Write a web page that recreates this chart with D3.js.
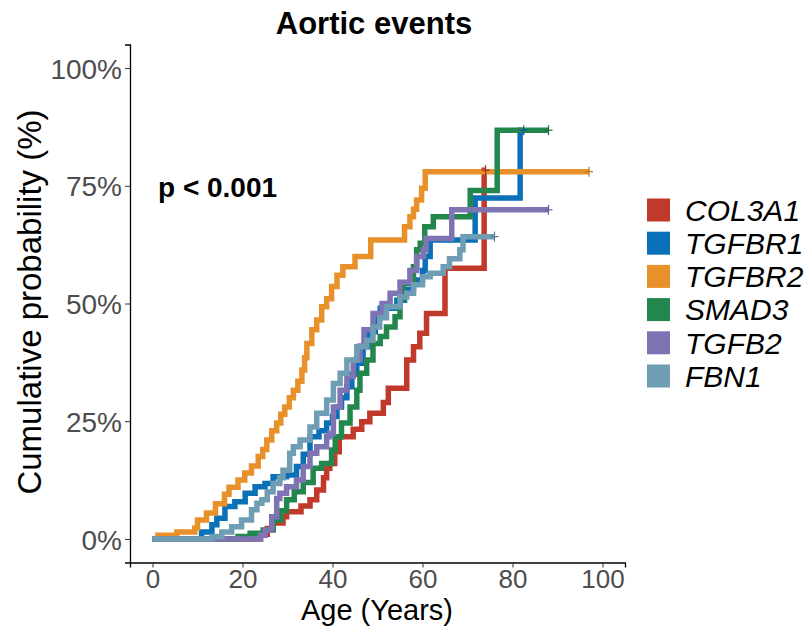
<!DOCTYPE html>
<html>
<head>
<meta charset="utf-8">
<script src="https://cdn.jsdelivr.net/npm/d3@7"></script>
<style>
  body { margin: 0; background: #fff; }
  text { font-family: "Liberation Sans", Arial, sans-serif; }
</style>
</head>
<body>
<div id="chart"></div>
<script>
// Cumulative incidence steps: [age, percent], last entry is the end of follow-up
const col3a1 = [[0,0],[24,1],[25.5,2.2],[26.8,3.4],[29,4.7],[29.8,5.8],[33,7],[35,8.3],[36.5,10.4],[38,13],[38.7,15],[39.4,16],[40.5,18.5],[41.5,21.7],[44.6,23.3],[46.5,24.9],[48.3,26.7],[51.3,29],[52.4,32],[56.5,38],[58,40.8],[59.4,43.7],[60.9,47.9],[65,57.5],[73.7,78.3],[74,78.3]];
const tgfbr1 = [[0,0],[10.9,1.5],[13.2,3],[14.3,4.4],[16.1,6.9],[18.3,7.9],[20.6,9.7],[22.8,11.1],[25,11.8],[26.8,13.2],[29.8,13.6],[32,15.4],[33.5,18],[35,21.7],[37,23],[38.7,24.6],[40,26],[41,28],[42,30],[43.2,32.3],[44.3,35],[45.4,37.3],[46.8,40.8],[48,44],[49.5,47],[50.6,49],[54.3,50.7],[56,53],[58,55],[60,57],[60.6,60],[61.7,63.5],[71.7,72.4],[81.7,86.8],[82.5,86.8]];
const tgfbr2 = [[0,0],[1.2,0.8],[5.4,1.5],[9.4,2.3],[10,4],[12,5.5],[14,7.5],[16,9.5],[17,11],[19,12.5],[20.5,14],[22,15.5],[23.5,17.5],[24.5,19],[25.4,21],[26.5,23],[27.6,24.6],[28.5,26.5],[29.4,28],[30.4,30],[31.3,31.6],[32.3,33.5],[33.2,35.9],[33.8,38.5],[34.3,41.5],[35.4,44.4],[36.5,46.5],[37.6,49.3],[38.7,51],[39.8,53.6],[41,56],[42.3,57.8],[45,60],[48.5,63.5],[56,66.3],[57.2,68.4],[58,70],[58.7,72],[59.8,74.5],[60.6,78],[97,78]];
const smad3 = [[0,0],[19,0.5],[21.7,1.2],[24.6,1.9],[26.8,4],[28.5,6],[29.8,8.3],[31.5,10],[33.5,12],[35.7,15],[37.6,16],[39.8,18.9],[40.6,21.7],[42,24.6],[43.9,28],[45.4,31.6],[46.1,35.2],[47.6,38],[49,41.5],[50.6,43],[52,45],[53.9,47.2],[55,51],[55.7,54.3],[58,57.8],[58.7,61.4],[59.5,62.8],[60.5,66.3],[62.4,68.4],[70.6,74],[76.6,86.8],[88,86.8]];
const tgfb2 = [[0,0],[24,0.8],[25,1.9],[26.5,4.7],[27.6,8.6],[28.3,9.7],[29.8,11.1],[32,12.5],[33.5,15.4],[35,18.2],[36.5,19.6],[38.7,21.7],[39.4,22.4],[40.2,28],[41.7,31.6],[43.2,34.5],[44.6,38],[46.1,41],[47,44.4],[49,47.9],[51,50],[52.8,52.2],[55,54.5],[57.2,57],[58.7,60],[60.2,61.4],[60.8,63.8],[66.5,69.9],[88,69.9]];
const fbn1 = [[0,0],[13.2,0.5],[15.4,1.5],[17.6,2.6],[19.8,4],[22,6.2],[23.2,7.6],[24.3,8.3],[25.5,10],[26.8,11.8],[28.3,13],[29,14.6],[30.5,18.2],[31.3,19.6],[32.8,21],[35,23.8],[36.5,26.7],[38.7,29.5],[40.2,33],[41.7,35.2],[43.2,38],[45.4,40.8],[47.6,42.2],[49,45],[50.5,47],[52,49.3],[55,51.4],[56.5,52.2],[58,54],[60,55.7],[61.7,56.4],[64.6,57.8],[66,59.5],[68.3,61.4],[69,64.2],[76,64.2]];

const genes = ["COL3A1", "TGFBR1", "TGFBR2", "SMAD3", "TGFB2", "FBN1"];
const curves = [col3a1, tgfbr1, tgfbr2, smad3, tgfb2, fbn1];
const colors = ["#c0392b", "#0a70b8", "#e8912a", "#23874d", "#7e74b4", "#6f9db3"];
const xTicks = [0, 20, 40, 60, 80, 100];
const yTicks = [0, 25, 50, 75, 100];

const width = 807, height = 629;
const svg = d3.select("#chart").append("svg")
    .attr("width", width)
    .attr("height", height);

// ggplot-style expanded scales
const x = d3.scaleLinear().domain([-5, 105]).range([130, 625]);
const y = d3.scaleLinear().domain([-5, 105]).range([562.5, 44.5]);

// Title
svg.append("text")
    .attr("x", 374).attr("y", 34)
    .attr("text-anchor", "middle")
    .attr("font-size", 31).attr("font-weight", "bold")
    .text("Aortic events");

// Axes
const xAxis = svg.append("g")
    .attr("transform", "translate(0,562.5)")
    .call(d3.axisBottom(x).tickValues(xTicks).tickSize(5).tickPadding(2));
const yAxis = svg.append("g")
    .attr("transform", "translate(130,0)")
    .call(d3.axisLeft(y).tickValues(yTicks).tickSize(5).tickPadding(3).tickFormat(d => d + "%"));

[xAxis, yAxis].forEach(ax => {
    ax.select(".domain").attr("stroke", "#000").attr("stroke-width", 1.3);
    ax.selectAll(".tick line").attr("stroke", "#333");
    ax.selectAll(".tick text")
        .attr("font-size", 26)
        .attr("fill", "#4d4d4d")
        .attr("font-family", "Liberation Sans, Arial, sans-serif");
});
yAxis.selectAll(".tick text").attr("font-size", 28).attr("dy", "0.36em");

// Axis titles
svg.append("text")
    .attr("x", 377).attr("y", 620)
    .attr("text-anchor", "middle")
    .attr("font-size", 29)
    .text("Age (Years)");
svg.append("text")
    .attr("transform", "translate(41,302) rotate(-90)")
    .attr("text-anchor", "middle")
    .attr("font-size", 33)
    .text("Cumulative probability (%)");

// Step curves
const line = d3.line()
    .x(d => x(d[0]))
    .y(d => y(d[1]))
    .curve(d3.curveStepAfter);

const plot = svg.append("g");
curves.forEach((c, i) => {
    plot.append("path")
        .datum(c)
        .attr("fill", "none")
        .attr("stroke", colors[i])
        .attr("stroke-width", 5.5)
        .attr("stroke-linejoin", "miter")
        .attr("d", line);
});

// Censor marks at the end of follow-up
curves.forEach((c, i) => {
    const last = c[c.length - 1];
    const g = plot.append("g")
        .attr("transform", `translate(${x(last[0])},${y(last[1])})`)
        .attr("stroke", d3.color(colors[i]).darker(0.6))
        .attr("stroke-width", 1.2);
    g.append("line").attr("x1", -4).attr("x2", 4);
    g.append("line").attr("y1", -5).attr("y2", 5);
});

// p-value
svg.append("text")
    .attr("x", 158).attr("y", 197)
    .attr("font-size", 28).attr("font-weight", "bold")
    .text("p < 0.001");

// Legend
const legend = svg.append("g").attr("transform", "translate(647,210)");
genes.forEach((g, i) => {
    const row = legend.append("g").attr("transform", `translate(0,${i * 33.2})`);
    row.append("rect")
        .attr("x", 0).attr("y", -11.5)
        .attr("width", 23).attr("height", 23)
        .attr("fill", colors[i]);
    row.append("text")
        .attr("x", 38).attr("y", 0)
        .attr("dy", "0.36em")
        .attr("font-size", 30)
        .attr("font-style", "italic")
        .text(g);
});
</script>
</body>
</html>
